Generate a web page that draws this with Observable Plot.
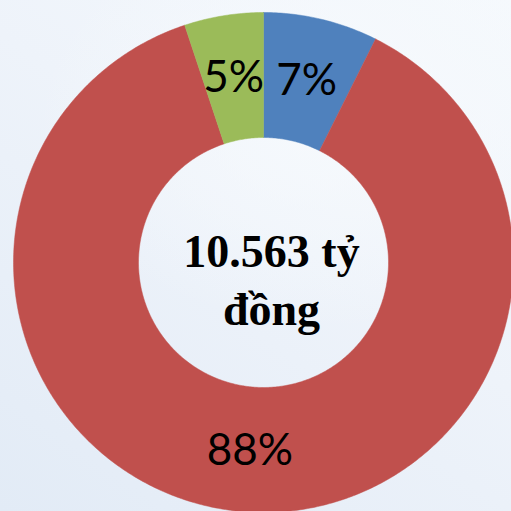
<!DOCTYPE html>
<html>
<head>
<meta charset="utf-8">
<script src="https://cdn.jsdelivr.net/npm/d3@7"></script>
<script src="https://cdn.jsdelivr.net/npm/@observablehq/plot@0.6"></script>
<style>
  html, body { margin: 0; padding: 0; }
  body { width: 511px; height: 511px; overflow: hidden; }
  #chart svg {
    display: block;
    background:
      radial-gradient(ellipse 420px 300px at 330px 120px, rgba(247,250,253,0.9), rgba(247,250,253,0) 70%),
      linear-gradient(215deg, #F5F9FD 0%, #EEF3FA 45%, #E2EBF6 100%);
  }
</style>
</head>
<body>
<div id="chart"></div>
<script>
// Data (share of total, %), in clockwise order from 12 o'clock
const categories = ["A", "B", "C"];
const shares = [7.4, 87.5, 5.1];
const labels = ["7%", "88%", "5%"];
const colors = ["#4F81BD", "#C0504D", "#9BBB59"];
const centerLabel = "10.563 tỷ\nđồng";

const W = 511, H = 511;
const outerR = 250, innerR = 125;

const pie = d3.pie().sort(null).value(d => d.share)(
  categories.map((c, i) => ({category: c, share: shares[i], label: labels[i], color: colors[i]}))
);

// Build polygon outlines for each ring segment in data space (y up)
const pt = (r, a) => [r * Math.sin(a), r * Math.cos(a)];
const ringPts = [];
pie.forEach(s => {
  const n = Math.max(8, Math.ceil((s.endAngle - s.startAngle) / 0.01));
  const pts = [];
  for (let k = 0; k <= n; k++) pts.push(pt(outerR, s.startAngle + (s.endAngle - s.startAngle) * k / n));
  for (let k = n; k >= 0; k--) pts.push(pt(innerR, s.startAngle + (s.endAngle - s.startAngle) * k / n));
  pts.push(pts[0]);
  pts.forEach(([x, y]) => ringPts.push({x, y, category: s.data.category, color: s.data.color}));
});

const labelPts = pie.map(s => {
  const a = (s.startAngle + s.endAngle) / 2, r = (outerR + innerR) / 2;
  const [x, y] = pt(r, a);
  return {x, y, label: s.data.label};
});

const chart = Plot.plot({
  width: W,
  height: H,
  margin: 0,
  x: {domain: [-263, 248], axis: null},
  y: {domain: [-249, 262], axis: null},
  style: {overflow: "hidden"},
  marks: [
    Plot.line(ringPts, {x: "x", y: "y", z: "category", fill: "color", stroke: "color", strokeWidth: 0.5, curve: "linear"}),
    Plot.text(labelPts, {
      x: "x", y: "y", text: "label",
      fontFamily: "Lato, 'Open Sans', sans-serif", fontSize: 44, fill: "black",
      lineAnchor: "middle", dy: 1
    }),
    Plot.text([centerLabel], {
      x: () => 0, y: () => 0, text: d => d,
      fontFamily: "'Liberation Serif', 'Times New Roman', serif", fontWeight: "bold",
      fontSize: 46, lineHeight: 1.26, fill: "black",
      lineAnchor: "middle", dx: 8, dy: 15
    })
  ]
});
document.getElementById("chart").appendChild(chart);
</script>
</body>
</html>
